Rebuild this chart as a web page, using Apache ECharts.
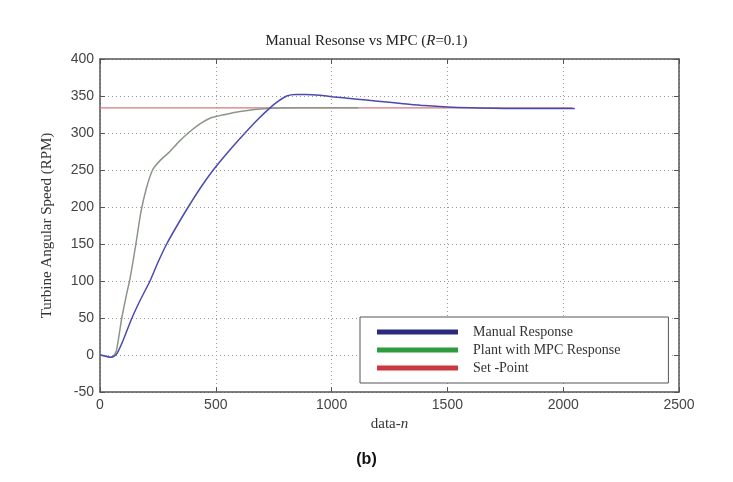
<!DOCTYPE html>
<html>
<head>
<meta charset="utf-8">
<script src="https://cdn.jsdelivr.net/npm/echarts@6/dist/echarts.min.js"></script>
<style>
  html, body { margin: 0; padding: 0; background: #fff; }
  #chart { width: 733px; height: 482px; }
</style>
</head>
<body>
<div id="chart"></div>
<script>
// values
const manualX = [0, 30, 45, 60, 75, 100, 138, 175, 216, 250, 288, 333, 381, 432, 489, 555, 626, 680, 734, 770, 806, 845, 885, 950, 1000, 1100, 1200, 1300, 1400, 1500, 1600, 1800, 2050];
const manualY = [0, -2, -3, -2, 3, 20, 50, 75, 100, 125, 150, 175, 200, 225, 250, 275, 300, 318, 334, 343, 350, 352, 352, 351, 349, 346, 343, 340, 337, 335, 334, 333, 333];

const mpcX = [0, 20, 40, 55, 70, 80, 94, 112, 130, 155, 176, 200, 227, 260, 302, 340, 381, 430, 475, 540, 604, 720, 850, 1000, 1115];
const mpcY = [0, -1, -3, -2, 5, 22, 50, 78, 104, 150, 192, 225, 250, 263, 275, 288, 300, 312, 320, 325, 329, 333, 334, 334, 334];

const setX = [0, 2040];
const setY = [334, 334];

const legendNames = ["Manual Response", "Plant with MPC Response", "Set -Point"];
const legendColors = ["#2b2b7e", "#2e9b3e", "#c9393f"];

const zip = (xs, ys) => xs.map((x, i) => [x, ys[i]]);

const chart = echarts.init(document.getElementById("chart"));

const frameAxis = {
  axisLine: { show: true, onZero: false, lineStyle: { color: "#555", width: 1.5 } },
  axisTick: { show: true, inside: true, length: 5, lineStyle: { color: "#555" } },
  axisLabel: { show: false },
  splitLine: { show: false }
};

const plainNum = (v) => String(v);

const option = {
  animation: false,
  title: {
    text: "Manual Resonse vs MPC ({i|R}=0.1)",
    left: "center",
    top: 29,
    textStyle: {
      fontFamily: "Liberation Serif",
      fontWeight: "normal",
      fontSize: 15,
      color: "#222",
      rich: { i: { fontFamily: "Liberation Serif", fontStyle: "italic", fontSize: 15, color: "#222" } }
    }
  },
  grid: { left: 100, right: 54, top: 59, bottom: 90 },
  legend: {
    orient: "vertical",
    left: 360,
    top: 317,
    padding: [8, 48, 8, 17],
    itemGap: 4,
    itemWidth: 81,
    itemHeight: 5,
    backgroundColor: "#fff",
    borderColor: "#555",
    borderWidth: 1,
    icon: "rect",
    textStyle: { fontFamily: "Liberation Serif", fontSize: 14, color: "#333", padding: [0, 0, 0, 10] },
    data: legendNames.map((n, i) => ({ name: n, itemStyle: { color: legendColors[i] } }))
  },
  xAxis: [
    {
      type: "value",
      min: 0,
      max: 2500,
      interval: 500,
      name: "data-{i|n}",
      nameLocation: "middle",
      nameGap: 24,
      nameTextStyle: {
        fontFamily: "Liberation Serif",
        fontSize: 15,
        color: "#333",
        rich: { i: { fontFamily: "Liberation Serif", fontStyle: "italic", fontSize: 15, color: "#333" } }
      },
      axisLine: { onZero: false, lineStyle: { color: "#555", width: 1.5 } },
      axisTick: { inside: true, length: 5, lineStyle: { color: "#555" } },
      axisLabel: { fontFamily: "Liberation Sans", fontSize: 14, color: "#444", margin: 6, formatter: plainNum },
      splitLine: { show: true, lineStyle: { color: "#999", type: [1, 3] } }
    },
    Object.assign({ type: "value", position: "top", min: 0, max: 2500, interval: 500 }, frameAxis)
  ],
  yAxis: [
    {
      type: "value",
      min: -50,
      max: 400,
      interval: 50,
      name: "Turbine Angular Speed (RPM)",
      nameLocation: "middle",
      nameGap: 45,
      nameTextStyle: { fontFamily: "Liberation Serif", fontSize: 15, color: "#333" },
      axisLine: { show: true, onZero: false, lineStyle: { color: "#555", width: 1.5 } },
      axisTick: { show: true, inside: true, length: 5, lineStyle: { color: "#555" } },
      axisLabel: { fontFamily: "Liberation Sans", fontSize: 14, color: "#444", margin: 6, formatter: plainNum },
      splitLine: { show: true, lineStyle: { color: "#999", type: [1, 3] } }
    },
    Object.assign({ type: "value", position: "right", min: -50, max: 400, interval: 50 }, frameAxis)
  ],
  series: [
    {
      name: legendNames[0],
      type: "line",
      data: zip(manualX, manualY),
      showSymbol: false,
      smooth: 0.2,
      z: 4,
      lineStyle: { color: "#4a4ab0", width: 1.5 },
      itemStyle: { color: legendColors[0] }
    },
    {
      name: legendNames[1],
      type: "line",
      data: zip(mpcX, mpcY),
      showSymbol: false,
      smooth: 0.2,
      z: 3,
      lineStyle: { color: "#8c958a", width: 1.5 },
      itemStyle: { color: legendColors[1] }
    },
    {
      name: legendNames[2],
      type: "line",
      data: zip(setX, setY),
      showSymbol: false,
      z: 2,
      lineStyle: { color: "#d47a7a", width: 1.2 },
      itemStyle: { color: legendColors[2] }
    }
  ],
  graphic: [
    {
      type: "text",
      left: "center",
      top: 452,
      style: { text: "(b)", font: "bold 16px 'Liberation Sans'", fill: "#111" }
    }
  ]
};

chart.setOption(option);
</script>
</body>
</html>
